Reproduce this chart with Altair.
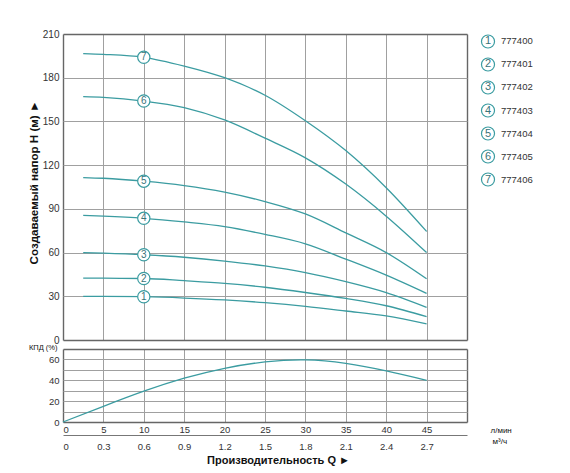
import json
import pandas as pd
import altair as alt

# Pump curves: flow Q (l/min) vs head H (m), one list per model
flow_lpm = [2.5, 5, 10, 15, 20, 25, 30, 35, 40, 45]
head_1 = [30, 30, 29.7, 28.8, 27.5, 25.6, 23.1, 19.9, 16.5, 11]
head_2 = [42.5, 42.4, 42.2, 40.7, 38.9, 36.2, 32.6, 28.5, 23.5, 16]
head_3 = [60, 59.6, 58.5, 56.8, 54.2, 50.8, 46.2, 40, 32.5, 22.4]
head_4 = [85.5, 85, 83.5, 81, 77.8, 72.5, 66, 55.5, 44.5, 32]
head_5 = [111.5, 111, 109, 106, 101.5, 95, 86.5, 73.5, 60, 42]
head_6 = [167, 166.5, 164, 159.5, 151, 138.5, 125, 107, 85, 60]
head_7 = [196.5, 196, 194, 188, 180, 168, 150.5, 130, 104.5, 74.5]
models = ['777400', '777401', '777402', '777403', '777404', '777405', '777406']

# Efficiency curve
eff_flow = [0, 5, 10, 15, 20, 25, 30, 35, 40, 45]
eff_pct = [0, 15, 29.5, 42, 51.5, 57.6, 59.6, 56.2, 49, 40]

# Axis ticks
grid_q = [0, 5, 10, 15, 20, 25, 30, 35, 40, 45, 50]
lpm_ticks = [0, 5, 10, 15, 20, 25, 30, 35, 40, 45]
m3h_labels = ['0', '0.3', '0.6', '0.9', '1.2', '1.5', '1.8', '2.1', '2.4', '2.7']
head_ticks = [0, 30, 60, 90, 120, 150, 180, 210]
eff_ticks = [0, 10, 20, 30, 40, 50, 60, 70]

FONT = 'Liberation Sans'
TEAL = '#3b9ca1'
NUM = '#3a7479'
GRID = '#a0a0a0'
FRAME = '#666666'

heads = [head_1, head_2, head_3, head_4, head_5, head_6, head_7]
rows = []
for i, (model, h) in enumerate(zip(models, heads), start=1):
    for q, v in zip(flow_lpm, h):
        rows.append({'curve': i, 'model': model, 'Q': q, 'H': v})
df = pd.DataFrame(rows)
labels_df = df[df.Q == 10]

xscale = alt.Scale(domain=[0, 50], nice=False)


def frame_grid(lo, hi):
    # panel border = outermost grid lines drawn darker
    test = f"datum.value == {lo} || datum.value == {hi}"
    return dict(gridColor=alt.condition(test, alt.value(FRAME), alt.value(GRID)),
                gridWidth=alt.condition(test, alt.value(1.4), alt.value(1)))


#Top panel: head curves
x_top = alt.X('Q:Q', scale=xscale,
              axis=alt.Axis(values=grid_q, labels=False, ticks=False, domain=False, title=None,
                            **frame_grid(0, 50)))
y_top = alt.Y('H:Q', scale=alt.Scale(domain=[0, 210], nice=False),
              axis=alt.Axis(values=head_ticks, ticks=False, domain=False, labelPadding=4,
                            title='Создаваемый напор Н (м) ►', titleFontSize=11.6,
                            titleFontWeight='bold', titlePadding=3, titleY=148,
                            labelFontSize=10, **frame_grid(0, 210)))

lines = alt.Chart(df).mark_line(color=TEAL, strokeWidth=1.3, interpolate='monotone').encode(
    x=x_top, y=y_top, detail='curve:N')
rings = alt.Chart(labels_df).mark_circle(size=150, color='white', opacity=1,
                                         stroke=TEAL, strokeWidth=1.2).encode(x='Q:Q', y='H:Q')
nums = alt.Chart(labels_df).mark_text(font=FONT, fontSize=10, color=NUM).encode(
    x='Q:Q', y='H:Q', text='curve:N')
top = alt.layer(lines, rings, nums).properties(width=404, height=306)

#Legend with numbered rings
legend_df = pd.DataFrame({'curve': list(range(1, 8)), 'model': models})
ly = alt.Y('curve:Q', scale=alt.Scale(domain=[0.674, 7.326], reverse=True, nice=False, zero=False),
           axis=None)
leg_ring = alt.Chart(legend_df).mark_circle(size=170, color='white', opacity=1,
                                            stroke=TEAL, strokeWidth=1.2).encode(y=ly)
leg_num = alt.Chart(legend_df).mark_text(font=FONT, fontSize=11, color=NUM).encode(
    y=ly, text='curve:N')
leg_code = alt.Chart(legend_df).mark_text(font=FONT, fontSize=9.5, color='#333',
                                          align='left', dx=13).encode(y=ly, text='model:N')
legend = alt.layer(leg_ring, leg_num, leg_code).properties(width=10, height=153)

#Bottom panel: efficiency
eff_df = pd.DataFrame({'Q': eff_flow, 'eff': eff_pct})
bottom = alt.Chart(eff_df).mark_line(color=TEAL, strokeWidth=1.3, interpolate='natural').encode(
    x=alt.X('Q:Q', scale=xscale,
            axis=alt.Axis(values=grid_q, ticks=False, domain=False, labelPadding=2,
                          labelExpr="datum.value == 50 ? '' : datum.label",
                          labelFontSize=9.5, title='л/мин', titleX=427, titleY=8,
                          titleAlign='left', titleBaseline='middle', titleFontSize=8,
                          titleFontWeight='normal', **frame_grid(0, 50))),
    y=alt.Y('eff:Q', scale=alt.Scale(domain=[0, 70], nice=False),
            axis=alt.Axis(values=eff_ticks, ticks=False, domain=False, labelPadding=4,
                          labelFontSize=9.5,
                          labelExpr="datum.value % 20 == 0 ? datum.label : ''",
                          title='КПД (%)', titleAngle=0, titleX=-6, titleY=-1.5,
                          titleAlign='right', titleBaseline='middle', titleFontSize=7.5,
                          titleFontWeight='normal', **frame_grid(0, 70)))
).properties(width=404, height=73)

#Second flow axis (m3/h) and the common axis title
m3h_expr = f"{json.dumps(m3h_labels)}[indexof({json.dumps(lpm_ticks)}, datum.value)]"
tick_df = pd.DataFrame({'Q': lpm_ticks})
m3h_row = alt.Chart(tick_df).mark_point(opacity=0).encode(
    x=alt.X('Q:Q', scale=xscale,
            axis=alt.Axis(orient='bottom', offset=3, values=lpm_ticks, labelExpr=m3h_expr,
                          grid=False, ticks=False, domainColor='#777', labelPadding=6,
                          labelFontSize=9.5, title='Производительность Q ►',
                          titleFontSize=11, titleFontWeight='bold', titlePadding=4,
                          titleX=215, titleAlign='center')),
    y=alt.Y('Q:Q', axis=alt.Axis(orient='right', labels=False, ticks=False, domain=False,
                                 grid=False, title='м³/ч', titleAngle=0, titleX=25, titleY=10,
                                 titleAlign='left', titleBaseline='middle', titleFontSize=8,
                                 titleFontWeight='normal'))
).properties(width=404, height=1)

# empty cell to keep the two-column grid
blank = alt.Chart(tick_df).mark_point(opacity=0).properties(width=10, height=1)

chart = alt.concat(
    top, legend, bottom, blank, m3h_row, columns=2,
    spacing={'row': 9, 'column': 16}, bounds='flush', align='each'
).properties(
    padding={'left': 20, 'top': 21, 'right': 5, 'bottom': 5}
).configure_view(
    strokeWidth=0
).configure_axis(
    labelFont=FONT, titleFont=FONT, labelColor='#333', titleColor='#111'
)

chart.save("out.html", embed_options={"renderer": "svg", "actions": False})
